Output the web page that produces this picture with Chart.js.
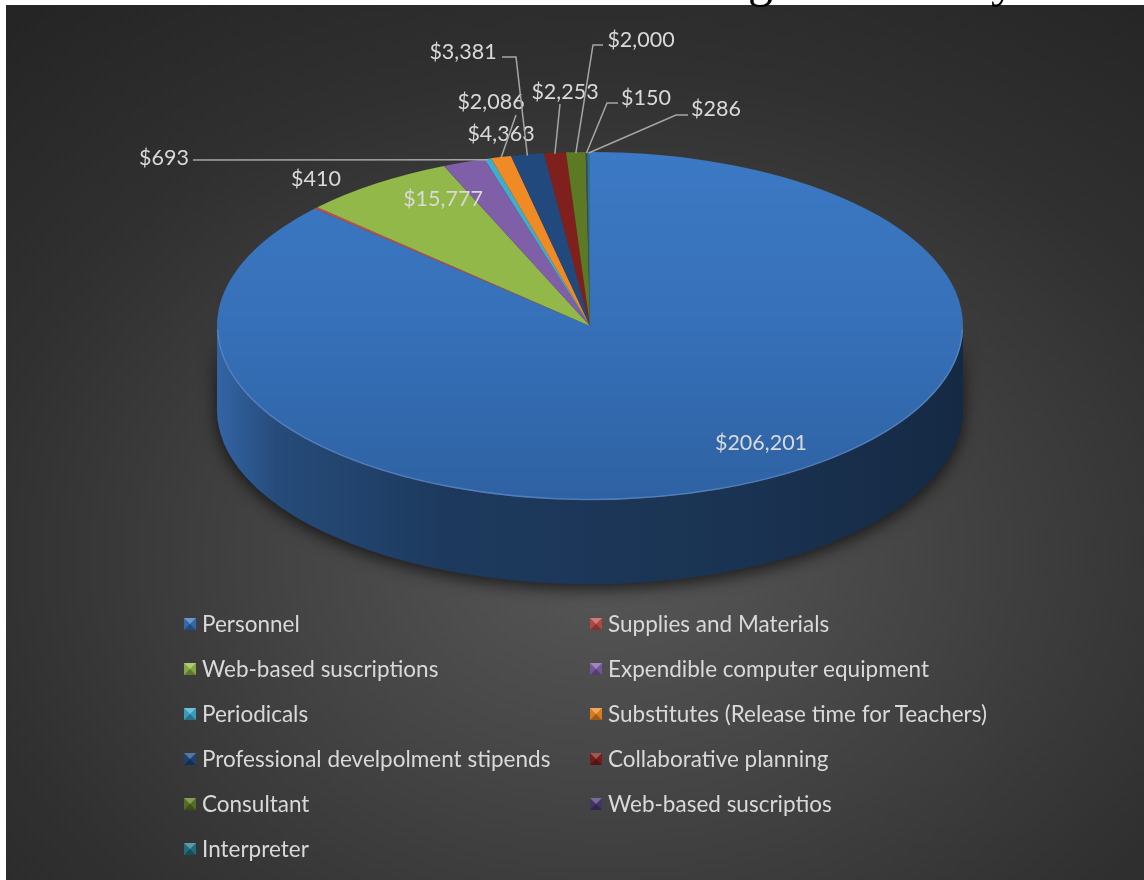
<!DOCTYPE html>
<html>
<head>
<meta charset="utf-8">
<script src="https://cdn.jsdelivr.net/npm/chart.js@4.4.1/dist/chart.umd.min.js"></script>
<style>
html,body{margin:0;padding:0;background:#fff;width:1144px;height:880px;overflow:hidden;position:relative;}
#panel{position:absolute;left:6px;top:5px;width:1138px;height:875px;
 background:radial-gradient(ellipse 80% 80% at 53% 63%, #575757 0%, #444 35%, #303030 70%, #252525 100%);}
#c{position:absolute;left:0;top:0;}
#title{position:absolute;right:128px;top:-46px;font-family:"Liberation Serif",serif;font-size:50px;line-height:50px;color:#000;white-space:nowrap;z-index:5;}
.lg{position:absolute;font-family:Lato,sans-serif;font-size:22.5px;color:#d9d9d9;white-space:nowrap;height:24px;line-height:24px;}
.mk{position:absolute;left:0;top:6px;width:0;height:0;border-style:solid;border-width:6px;}
.lt{position:absolute;left:18px;top:0;}
</style>
</head>
<body>
<div id="panel"></div>
<div id="title">Budget Summary</div>
<canvas id="c" width="1144" height="880"></canvas>
<div id="legend"></div>
<script>
// ---- data ----
const categories = [
  'Personnel',
  'Supplies and Materials',
  'Web-based suscriptions',
  'Expendible computer equipment',
  'Periodicals',
  'Substitutes (Release time for Teachers)',
  'Professional develpolment stipends',
  'Collaborative planning',
  'Consultant',
  'Web-based suscriptios',
  'Interpreter'
];
const amounts = [206201, 410, 15777, 4363, 693, 2086, 3381, 2253, 2000, 150, 286];
const sliceColors = ['#3a73bb','#c0504d','#93b84a','#7f5fa8','#3eaecf','#f08a24','#21497d','#80201d','#5c7a24','#4b3a70','#25788c'];

// ---- label layout (annotation positions, text centre) ----
const labelPos = [[761,443],[316,179],[443,199],[501,134],[164,158],[491,102],[463,52],[565,92],[641,40],[646,98],[716,109]];
const leaderElbows = [null,null,null,null,[[193,160]],[[516,115]],[[502,57],[516,57]],[[560,104]],[[603,45],[593,45]],[[618,103],[607,103]],[[688,115],[676,115]]];

const TILT = 174/373, CY = 326, DEPTH = 84;

function shade(hex, f){
  const n = parseInt(hex.slice(1),16);
  let r=(n>>16)&255,g=(n>>8)&255,b=n&255;
  const m = v => Math.max(0,Math.min(255,Math.round(f<0? v*(1+f) : v+(255-v)*f)));
  return 'rgb('+m(r)+','+m(g)+','+m(b)+')';
}

const pie3d = {
  id:'pie3d',
  beforeDatasetsDraw(chart){
    const ctx = chart.ctx, meta = chart.getDatasetMeta(0);
    const e0 = meta.data[0];
    const cx = e0.x, cy0 = e0.y, R = e0.outerRadius, RY = R*TILT;
    ctx.save();
    meta.data.forEach((el,i)=>{
      const a1 = Math.max(el.startAngle,0), a2 = Math.min(el.endAngle,Math.PI);
      if (a2 <= a1) return;
      ctx.save();
      ctx.beginPath();
      ctx.ellipse(cx, CY, R, RY, 0, a1, a2, false);
      ctx.lineTo(cx + R*Math.cos(a2), CY + RY*Math.sin(a2) + DEPTH);
      ctx.ellipse(cx, CY+DEPTH, R, RY, 0, a2, a1, true);
      ctx.closePath();
      const g = ctx.createLinearGradient(cx-R,0,cx+R,0);
      const c = sliceColors[i];
      g.addColorStop(0, shade(c,-0.12));
      g.addColorStop(0.08, shade(c,-0.35));
      g.addColorStop(0.3, shade(c,-0.5));
      g.addColorStop(0.7, shade(c,-0.56));
      g.addColorStop(1, shade(c,-0.64));
      ctx.shadowColor='rgba(0,0,0,0.65)'; ctx.shadowBlur=16; ctx.shadowOffsetY=5;
      ctx.fillStyle = g; ctx.fill();
      ctx.restore();
    });
    ctx.translate(0, CY); ctx.scale(1, TILT); ctx.translate(0, -cy0);
  },
  afterDatasetsDraw(chart){
    const ctx = chart.ctx, meta = chart.getDatasetMeta(0);
    ctx.restore();
    const e0 = meta.data[0];
    const cx = e0.x, R = e0.outerRadius, RY = R*TILT;
    // rim highlight
    ctx.save();
    ctx.beginPath();
    ctx.ellipse(cx, CY, R-0.5, RY-0.5, 0, 0.02, Math.PI-0.02, false);
    ctx.strokeStyle='rgba(110,150,210,0.55)'; ctx.lineWidth=1.5; ctx.stroke();
    ctx.restore();
    // labels
    ctx.save();
    ctx.font = '21.5px Lato, sans-serif';
    ctx.textAlign='center'; ctx.textBaseline='middle';
    meta.data.forEach((el,i)=>{
      const a = (el.startAngle+el.endAngle)/2;
      const ax = cx + R*Math.cos(a), ay = CY + RY*Math.sin(a) + 1;
      const el2 = leaderElbows[i];
      if (el2){
        ctx.beginPath();
        ctx.moveTo(el2[0][0], el2[0][1]);
        for (let k=1;k<el2.length;k++) ctx.lineTo(el2[k][0], el2[k][1]);
        ctx.lineTo(ax, ay);
        ctx.strokeStyle='#a6a6a6'; ctx.lineWidth=1.5; ctx.stroke();
      }
      ctx.fillStyle='#d9d9d9';
      ctx.fillText('$'+amounts[i].toLocaleString('en-US'), labelPos[i][0], labelPos[i][1]);
    });
    ctx.restore();
  }
};

new Chart(document.getElementById('c'), {
  type:'pie',
  data:{
    labels: categories,
    datasets:[{
      data: amounts,
      backgroundColor: (c)=>{
        const base = sliceColors[c.dataIndex];
        const ca = c.chart.chartArea;
        if (!ca || c.dataIndex!==0) return base;
        const cy = (ca.top+ca.bottom)/2, r = Math.min(ca.width,ca.height)/2;
        const g = c.chart.ctx.createLinearGradient(0, cy-r, 0, cy+r);
        g.addColorStop(0, '#3c79c4'); g.addColorStop(0.5,'#3670b8'); g.addColorStop(1, '#2e62a3');
        return g;
      },
      borderWidth:0,
      hoverOffset:0,
      clip:false
    }]
  },
  options:{
    responsive:false,
    animation:false,
    events:[],
    layout:{padding:{left:217,right:181,top:0,bottom:0}},
    plugins:{legend:{display:false},tooltip:{enabled:false},title:{display:false}}
  },
  plugins:[pie3d]
});

// ---- legend ----
const lg = document.getElementById('legend');
const colX = [184, 590], rowY0 = 612, rowStep = 45;
categories.forEach((name,i)=>{
  const col = i%2, row = Math.floor(i/2);
  const d = document.createElement('div');
  d.className='lg';
  d.style.left = colX[col]+'px';
  d.style.top = (rowY0 + row*rowStep)+'px';
  const m = document.createElement('div');
  m.className='mk';
  const c = sliceColors[i];
  m.style.borderTopColor = shade(c,0.25);
  m.style.borderLeftColor = shade(c,-0.1);
  m.style.borderRightColor = shade(c,-0.1);
  m.style.borderBottomColor = shade(c,-0.35);
  const t = document.createElement('span');
  t.className='lt'; t.textContent = name;
  d.appendChild(m); d.appendChild(t);
  lg.appendChild(d);
});
</script>
</body>
</html>
